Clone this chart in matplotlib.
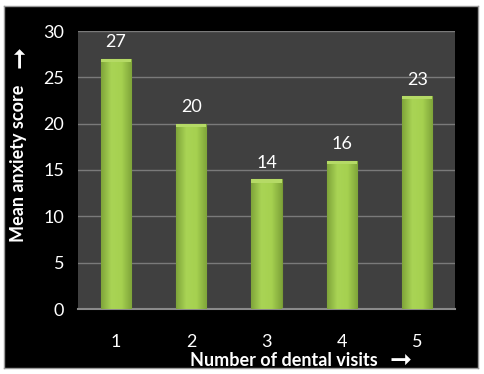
import matplotlib
matplotlib.use("Agg")
import matplotlib.pyplot as plt
import numpy as np

visits = ["1", "2", "3", "4", "5"]
anxiety = [27, 20, 14, 16, 23]
y_ticks = [0, 5, 10, 15, 20, 25, 30]

fig = plt.figure(figsize=(4.84, 3.74), dpi=100)
fig.patch.set_facecolor("white")

# black slide background with a thin frame
bg = fig.add_axes([4 / 484, 6 / 374, 474 / 484, 362 / 374])
bg.set_facecolor("black")
bg.set_xticks([])
bg.set_yticks([])
for s in bg.spines.values():
    s.set_color("#9a9a9a")
    s.set_linewidth(1)

ax = fig.add_axes([78 / 484, 1 - 309 / 374, 377 / 484, 278 / 374])
ax.set_facecolor("#404040")
ax.set_xlim(-0.5, len(visits) - 0.5)
ax.set_ylim(0, 30)
ax.set_yticks(y_ticks)
ax.yaxis.grid(True, color="#7a7a7a", linewidth=1)
ax.set_axisbelow(True)
for s in ["top", "right", "left"]:
    ax.spines[s].set_visible(False)
ax.spines["bottom"].set_color("#8a8a8a")
ax.spines["bottom"].set_linewidth(1.5)

font = ["Lato", "DejaVu Sans"]
ax.tick_params(axis="both", length=0, colors="white", labelsize=13)
ax.tick_params(axis="x", pad=18)
ax.tick_params(axis="y", pad=10)
ax.set_xticks(range(len(visits)))
ax.set_xticklabels(visits, family=font)
for lab in ax.get_yticklabels():
    lab.set_family(font)

x = np.arange(len(visits))
bars = ax.bar(x, anxiety, width=0.4, color="#9bc548", edgecolor="#7a9c36", linewidth=0.8, zorder=2)

# green gradient: lighter in the middle, darker at the sides
cmap = matplotlib.colors.LinearSegmentedColormap.from_list(
    "g", ["#7fa53a", "#a9d455", "#a6d150", "#7fa53a"])
grad = np.linspace(0, 1, 64).reshape(1, -1)
for b in bars:
    x0, w, h = b.get_x(), b.get_width(), b.get_height()
    im = ax.imshow(grad, cmap=cmap, aspect="auto", extent=[x0, x0 + w, 0, h], zorder=3)
    im.set_clip_path(b)
    ax.add_patch(plt.Rectangle((x0, h - 0.35), w, 0.35, color="#b5da66", zorder=4, lw=0))
ax.set_xlim(-0.5, len(visits) - 0.5)
ax.set_ylim(0, 30)

for xi, v in zip(x, anxiety):
    ax.text(xi, v + 0.9, str(v), ha="center", va="bottom", color="white", fontsize=13, family=font)

# axis titles with their arrows
fig.text(19 / 484, 1 - 163 / 374, "Mean anxiety score", rotation=90, ha="center", va="center",
         color="white", fontsize=13, fontweight="bold", family=font)
fig.text(19 / 484, 1 - 57 / 374, "\u279e", rotation=90, ha="center", va="center",
         color="white", fontsize=19, fontweight="bold", family=font)
fig.text(284 / 484, 1 - 361 / 374, "Number of dental visits", ha="center", va="center",
         color="white", fontsize=13, fontweight="bold", family=font)
fig.text(401 / 484, 1 - 360 / 374, "\u279e", ha="center", va="center",
         color="white", fontsize=19, fontweight="bold", family=font)

fig.savefig("out.png", dpi=100, facecolor=fig.get_facecolor())
